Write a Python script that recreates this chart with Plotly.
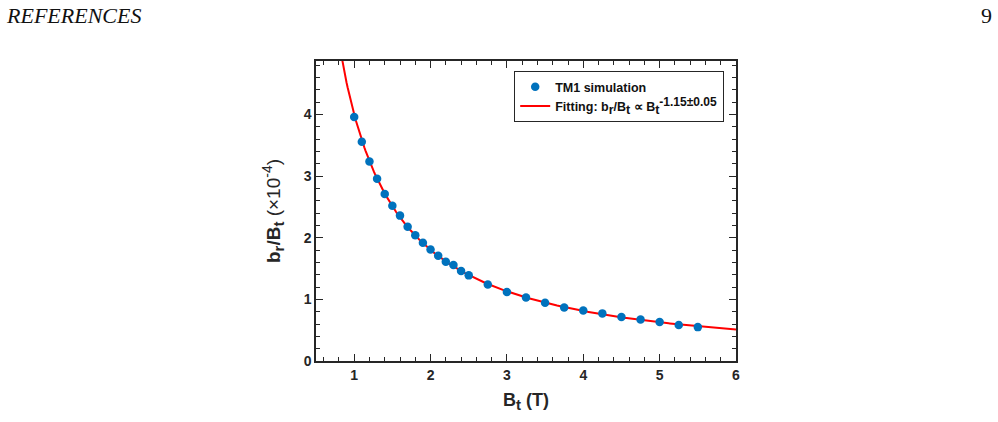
import numpy as np
import plotly.graph_objects as go

# Data
bt = [1.0, 1.1, 1.2, 1.3, 1.4, 1.5, 1.6, 1.7, 1.8, 1.9, 2.0, 2.1, 2.2, 2.3, 2.4, 2.5,
      2.75, 3.0, 3.25, 3.5, 3.75, 4.0, 4.25, 4.5, 4.75, 5.0, 5.25, 5.5]
ratio = [3.96, 3.56, 3.24, 2.96, 2.71, 2.52, 2.36, 2.18, 2.04, 1.92, 1.81, 1.71, 1.61, 1.56,
         1.46, 1.39, 1.24, 1.12, 1.03, 0.945, 0.87, 0.82, 0.773, 0.713, 0.675, 0.632, 0.583, 0.55]
x_ticks = [1, 2, 3, 4, 5, 6]
y_ticks = [0, 1, 2, 3, 4]

# power-law fit from the data (log-log linear fit)
slope, intercept = np.polyfit(np.log(bt), np.log(ratio), 1)
xf = np.linspace(0.5, 6.0, 400)
yf = np.exp(intercept) * xf ** slope

W, H = 998, 422
L, R, T, B = 316, 736, 61, 361

def px(x):
    return (x - L) / (R - L)

def py(y):
    return (B - y) / (B - T)

def sub(t, s):
    return f'<sub><span style="font-size:{s}px">{t}</span></sub>'

def sup(t, s):
    return f'<sup><span style="font-size:{s}px">{t}</span></sup>'

fit_name = ("<b>Fitting: b" + sub("r", 12.5) + "/B" + sub("t", 12.5) + " ∝ B" + sub("t", 12.5)
            + sup("-1.15±0.05", 12) + "</b>")
y_title = ("<b>b" + sub("r", 15) + "/B" + sub("t", 15) + "</b> (×10" + sup("-4", 14) + ")")
x_title = "<b>B" + sub("t", 15) + " (T)</b>"

fig = go.Figure()
fig.add_trace(go.Scatter(
    x=xf, y=yf, mode="lines", name=fit_name,
    line=dict(color="#FF0000", width=2),
))
fig.add_trace(go.Scatter(
    x=bt, y=ratio, mode="markers", name="<b>TM1 simulation</b>",
    marker=dict(color="#0072BD", size=8.5, line=dict(width=0)),
))

axis_common = dict(
    showline=True, linecolor="#262626", linewidth=1.5, mirror="ticks",
    ticks="inside", ticklen=7, tickwidth=1.2, tickcolor="#262626",
    showgrid=False, zeroline=False,
    tickfont=dict(family="Liberation Sans", size=14, color="#262626", weight="bold"),
    minor=dict(ticks="inside", ticklen=4, tickwidth=1.2, tickcolor="#262626", dtick=0.2, showgrid=False),
)

fig.update_layout(
    width=W, height=H,
    margin=dict(l=L, r=W - R, t=T, b=H - B),
    paper_bgcolor="white", plot_bgcolor="white",
    xaxis=dict(range=[0.5, 6.0], tickvals=x_ticks, ticktext=[str(v) for v in x_ticks],
               title=dict(text=x_title, standoff=12,
                          font=dict(family="Liberation Sans", size=18, color="#262626")),
               **axis_common),
    yaxis=dict(range=[0, 4.87], tickvals=y_ticks, ticktext=[str(v) for v in y_ticks],
               title=dict(text=y_title, standoff=18,
                          font=dict(family="Liberation Sans", size=19, color="#262626")),
               **axis_common),
    legend=dict(
        x=px(724), y=py(71), xanchor="right", yanchor="top",
        bgcolor="white", bordercolor="#262626", borderwidth=1.2,
        font=dict(family="Liberation Sans", size=12.5, color="#111111"),
        itemwidth=30, tracegroupgap=0, traceorder="reversed",
    ),
    showlegend=True,
    annotations=[
        dict(text="<i>REFERENCES</i>", x=px(4), y=py(15), xref="paper", yref="paper",
             xanchor="left", yanchor="middle", showarrow=False,
             font=dict(family="Liberation Serif", size=22, color="#111111")),
        dict(text="9", x=px(994), y=py(15), xref="paper", yref="paper",
             xanchor="right", yanchor="middle", showarrow=False,
             font=dict(family="Liberation Serif", size=22, color="#111111")),
    ],
)

fig.write_html("out.html")
